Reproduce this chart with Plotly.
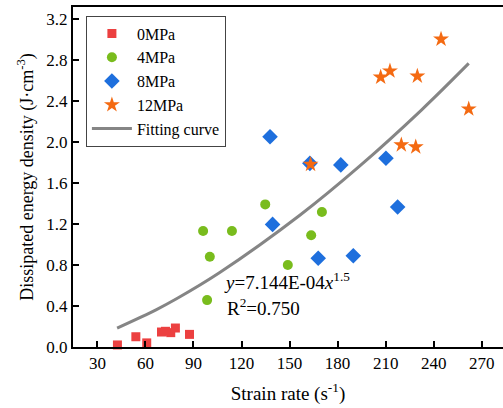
import plotly.graph_objects as go

# Data
x_0mpa = [42.5, 54.0, 60.8, 70.0, 72.5, 75.8, 78.7, 87.5]
y_0mpa = [0.02, 0.10, 0.04, 0.146, 0.153, 0.14, 0.185, 0.123]

x_4mpa = [96.0, 98.5, 100.2, 114.0, 134.8, 148.9, 163.5, 170.2]
y_4mpa = [1.13, 0.457, 0.88, 1.13, 1.39, 0.80, 1.09, 1.316]

x_8mpa = [137.8, 139.4, 162.7, 167.9, 182.0, 189.8, 210.2, 217.5]
y_8mpa = [2.05, 1.195, 1.79, 0.865, 1.775, 0.89, 1.84, 1.364]

x_12mpa = [163.1, 206.9, 212.7, 219.8, 228.8, 229.8, 244.6, 261.9]
y_12mpa = [1.78, 2.63, 2.69, 1.97, 1.95, 2.64, 3.0, 2.32]

x_fit = [42.3, 66.9, 79.4, 106.4, 156.4, 193.9, 232.5, 261.9]
y_fit = [0.185, 0.365, 0.47, 0.726, 1.284, 1.765, 2.312, 2.764]

x_ticks = [30, 60, 90, 120, 150, 180, 210, 240, 270]
y_ticks = [0.0, 0.4, 0.8, 1.2, 1.6, 2.0, 2.4, 2.8, 3.2]

FONT = "Liberation Serif"

fig = go.Figure()
fig.add_trace(go.Scatter(x=x_0mpa, y=y_0mpa, mode="markers", name="0MPa",
                         marker=dict(symbol="square", size=9, color="#EC4040"),
                         cliponaxis=False))
fig.add_trace(go.Scatter(x=x_4mpa, y=y_4mpa, mode="markers", name="4MPa",
                         marker=dict(symbol="circle", size=10, color="#79BC1D"),
                         cliponaxis=False))
fig.add_trace(go.Scatter(x=x_8mpa, y=y_8mpa, mode="markers", name="8MPa",
                         marker=dict(symbol="diamond", size=12, color="#1E6FDD"),
                         cliponaxis=False))
fig.add_trace(go.Scatter(x=x_12mpa, y=y_12mpa, mode="markers", name="12MPa",
                         marker=dict(symbol="star", size=12, color="#F46A12"),
                         cliponaxis=False))
fig.add_trace(go.Scatter(x=x_fit, y=y_fit, mode="lines", name="Fitting curve",
                         line=dict(color="#858585", width=3, shape="spline", smoothing=1)))

fig.add_annotation(x=108.1, y=0.648, xref="x", yref="y", xanchor="left", yanchor="middle",
                   text="<i>y</i>=7.144E-04<i>x</i><sup>1.5</sup>", showarrow=False,
                   font=dict(family=FONT, size=19, color="black"))
fig.add_annotation(x=109.6, y=0.386, xref="x", yref="y", xanchor="left", yanchor="middle",
                   text="R<sup>2</sup>=0.750", showarrow=False,
                   font=dict(family=FONT, size=19, color="black"))

fig.update_layout(
    width=503, height=408,
    margin=dict(l=73, r=0, t=7, b=61),
    plot_bgcolor="white", paper_bgcolor="white",
    font=dict(family=FONT, size=17, color="black"),
    showlegend=True,
    legend=dict(x=0.030, y=0.975, xanchor="left", yanchor="top",
                bordercolor="#444", borderwidth=1, bgcolor="white",
                font=dict(family=FONT, size=16), tracegroupgap=0, itemwidth=40),
    xaxis=dict(range=[14.75, 283.3], tickvals=x_ticks, ticks="inside", ticklen=6,
               tickwidth=2, tickcolor="black", showline=True, linewidth=2,
               linecolor="black", mirror=True, showgrid=False, zeroline=False,
               title=dict(text="Strain rate (s<sup>-1</sup>)", font=dict(size=19), standoff=14),
               tickfont=dict(size=17)),
    yaxis=dict(range=[0, 3.314], tickvals=y_ticks, tickformat=".1f", ticks="inside",
               ticklen=6, tickwidth=2, tickcolor="black", showline=True, linewidth=2,
               linecolor="black", mirror=False, showgrid=False, zeroline=False,
               title=dict(text="Dissipated energy density (J·cm<sup>-3</sup>)",
                          font=dict(size=18), standoff=8),
               tickfont=dict(size=17)),
)

fig.write_html("out.html")
